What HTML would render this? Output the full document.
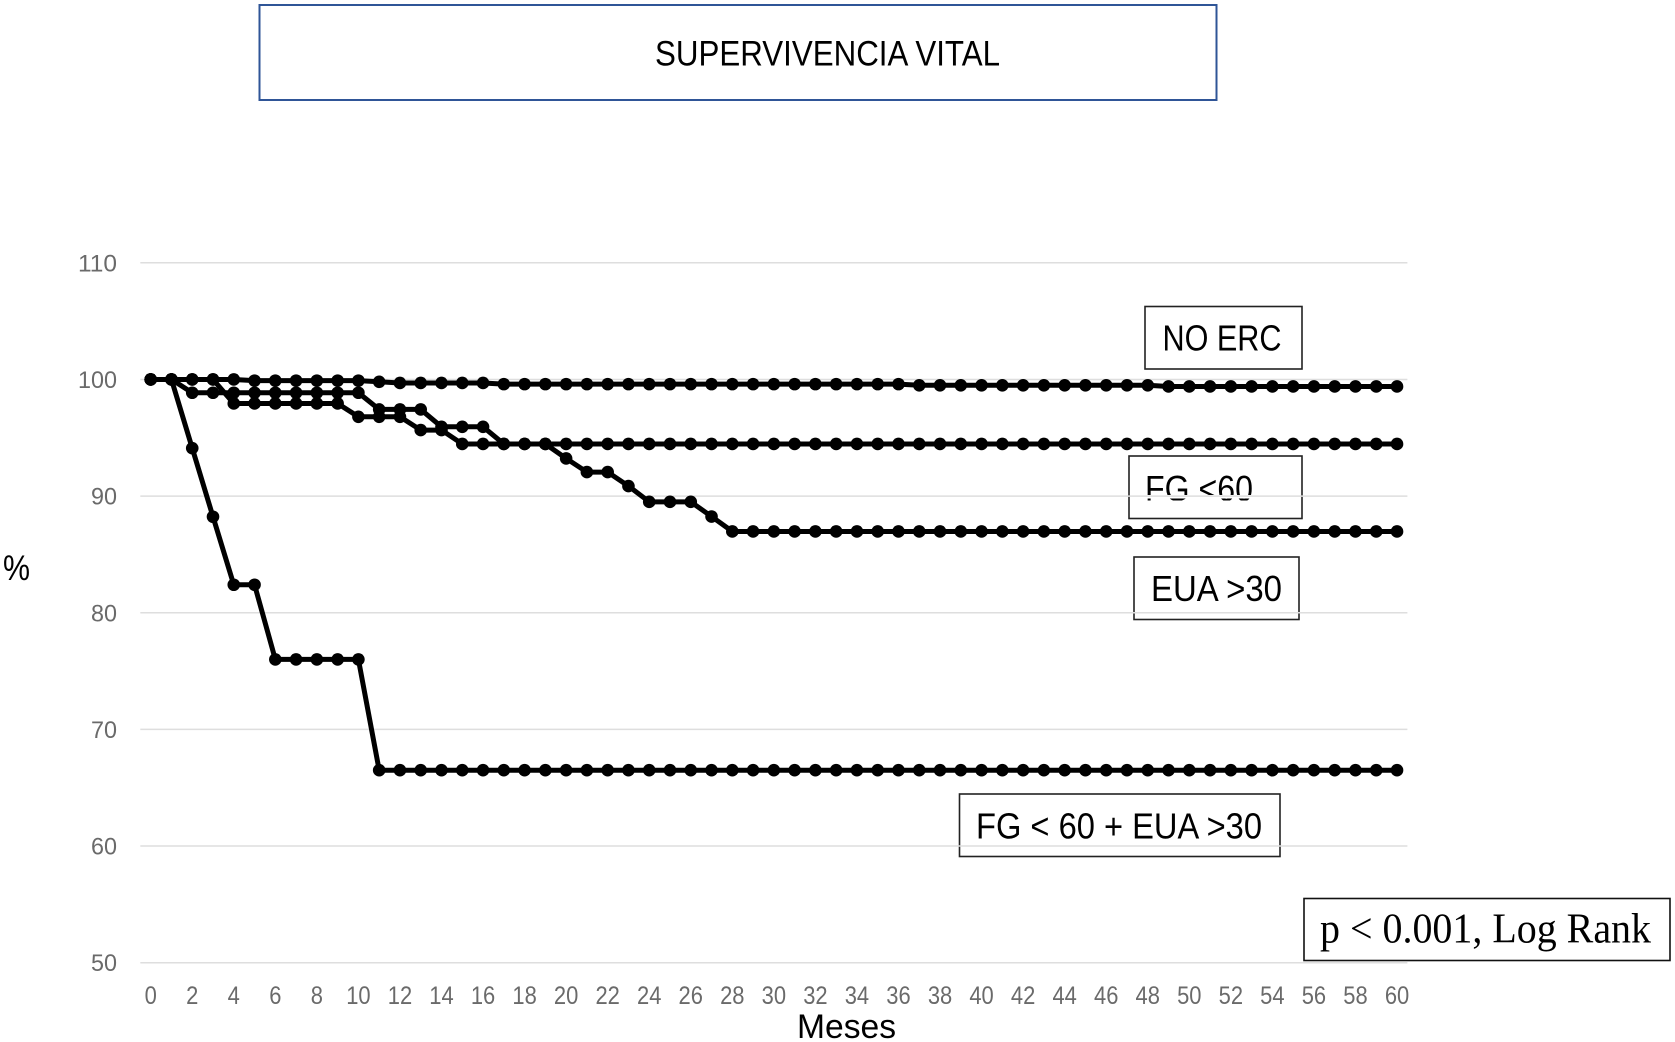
<!DOCTYPE html>
<html lang="es">
<head>
<meta charset="utf-8">
<title>Supervivencia vital</title>
<style>
html,body{margin:0;padding:0;background:#fff;}
svg{display:block;}
text{font-family:"Liberation Sans",sans-serif;}
</style>
</head>
<body>
<svg id="chart" xmlns="http://www.w3.org/2000/svg" width="1675" height="1042" viewBox="0 0 1675 1042">
  <defs>
    <clipPath id="fg-clip"><rect x="1131" y="460" width="169" height="40.5"></rect></clipPath>
  </defs>
  <rect x="0" y="0" width="1675" height="1042" fill="#ffffff"></rect>

  <g>
    <rect x="259.5" y="5" width="957" height="95" fill="#fff" stroke="#2f5597" stroke-width="2"></rect>
    <text x="655" y="65.5" font-size="35" textLength="345" lengthAdjust="spacingAndGlyphs" fill="#000">SUPERVIVENCIA VITAL</text>
  </g>

  <g>
    <rect x="1145" y="306.5" width="157" height="62.5" fill="#fff" stroke="#222" stroke-width="1.6"></rect>
    <text x="1162.5" y="350.5" font-size="36" textLength="119" lengthAdjust="spacingAndGlyphs" fill="#000">NO ERC</text>
  </g>
  <g>
    <rect x="1129" y="456" width="173" height="62.5" fill="#fff" stroke="#222" stroke-width="1.6"></rect>
    <text x="1145" y="501" font-size="36" textLength="108" lengthAdjust="spacingAndGlyphs" fill="#000" clip-path="url(#fg-clip)">FG &lt;60</text>
    <rect x="1130" y="495" width="171" height="3.5" fill="#fff"></rect>
  </g>
  <g>
    <rect x="1134" y="557" width="165" height="62.5" fill="#fff" stroke="#222" stroke-width="1.6"></rect>
    <text x="1151" y="601" font-size="36" textLength="131" lengthAdjust="spacingAndGlyphs" fill="#000">EUA &gt;30</text>
  </g>
  <g>
    <rect x="959.5" y="794" width="320.5" height="62.5" fill="#fff" stroke="#222" stroke-width="1.6"></rect>
    <text x="976" y="838.5" font-size="36" textLength="286" lengthAdjust="spacingAndGlyphs" fill="#000">FG &lt; 60 + EUA &gt;30</text>
  </g>

  <g id="grid"></g>
  <g id="y-ticks"></g>
  <g id="x-ticks"></g>
  <g id="series"></g>

  <g>
    <rect x="1304" y="898.5" width="366" height="62" fill="#fff" stroke="#111" stroke-width="1.6"></rect>
    <text x="1320" y="942.5" font-size="42" textLength="331" lengthAdjust="spacingAndGlyphs" fill="#000" style="font-family:'Liberation Serif',serif">p &lt; 0.001, Log Rank</text>
  </g>

  <text x="3" y="580" font-size="35" textLength="27" lengthAdjust="spacingAndGlyphs" fill="#000">%</text>
  <text x="797" y="1038" font-size="34" textLength="99" lengthAdjust="spacingAndGlyphs" fill="#000">Meses</text>
</svg>

<script>
var months = [0,1,2,3,4,5,6,7,8,9,10,11,12,13,14,15,16,17,18,19,20,21,22,23,24,25,26,27,28,29,30,31,32,33,34,35,36,37,38,39,40,41,42,43,44,45,46,47,48,49,50,51,52,53,54,55,56,57,58,59,60];
var xTickLabels = [0,2,4,6,8,10,12,14,16,18,20,22,24,26,28,30,32,34,36,38,40,42,44,46,48,50,52,54,56,58,60];
var yTickLabels = [50,60,70,80,90,100,110];

var noErcValues = [100,100,100,100,100,99.9,99.9,99.9,99.9,99.9,99.9,99.8,99.7,99.7,99.7,99.7,99.7,99.6,99.6,99.6,99.6,99.6,99.6,99.6,99.6,99.6,99.6,99.6,99.6,99.6,99.6,99.6,99.6,99.6,99.6,99.6,99.6,99.5,99.5,99.5,99.5,99.5,99.5,99.5,99.5,99.5,99.5,99.5,99.5,99.4,99.4,99.4,99.4,99.4,99.4,99.4,99.4,99.4,99.4,99.4,99.4];
var fgValues = [100,100,100,100,97.94,97.94,97.94,97.94,97.94,97.94,96.8,96.8,96.8,95.66,95.66,94.47,94.47,94.47,94.47,94.47,94.47,94.47,94.47,94.47,94.47,94.47,94.47,94.47,94.47,94.47,94.47,94.47,94.47,94.47,94.47,94.47,94.47,94.47,94.47,94.47,94.47,94.47,94.47,94.47,94.47,94.47,94.47,94.47,94.47,94.47,94.47,94.47,94.47,94.47,94.47,94.47,94.47,94.47,94.47,94.47,94.47];
var euaValues = [100,100,98.86,98.86,98.86,98.86,98.86,98.86,98.86,98.86,98.86,97.43,97.43,97.43,95.94,95.94,95.94,94.47,94.47,94.47,93.23,92.06,92.06,90.86,89.51,89.51,89.51,88.25,86.97,86.97,86.97,86.97,86.97,86.97,86.97,86.97,86.97,86.97,86.97,86.97,86.97,86.97,86.97,86.97,86.97,86.97,86.97,86.97,86.97,86.97,86.97,86.97,86.97,86.97,86.97,86.97,86.97,86.97,86.97,86.97,86.97];
var combinedValues = [100,100,94.11,88.23,82.4,82.4,76,76,76,76,76,66.5,66.5,66.5,66.5,66.5,66.5,66.5,66.5,66.5,66.5,66.5,66.5,66.5,66.5,66.5,66.5,66.5,66.5,66.5,66.5,66.5,66.5,66.5,66.5,66.5,66.5,66.5,66.5,66.5,66.5,66.5,66.5,66.5,66.5,66.5,66.5,66.5,66.5,66.5,66.5,66.5,66.5,66.5,66.5,66.5,66.5,66.5,66.5,66.5,66.5];

var NS = 'http://www.w3.org/2000/svg';
var plotLeft = 140.3, plotRight = 1407.4, yAt50 = 962.7, pxPerUnit = 11.665;
var bandWidth = (plotRight - plotLeft) / months.length;

function xScale(month) { return plotLeft + (month + 0.5) * bandWidth; }
function yScale(value) { return yAt50 - (value - 50) * pxPerUnit; }

function make(tag, attrs) {
  var el = document.createElementNS(NS, tag);
  for (var k in attrs) { el.setAttribute(k, attrs[k]); }
  return el;
}

var gridGroup = document.getElementById('grid');
var yGroup = document.getElementById('y-ticks');
yTickLabels.forEach(function (tick) {
  var line = make('line', {x1: plotLeft, x2: plotRight, y1: yScale(tick), y2: yScale(tick), stroke: '#dedede', 'stroke-width': 1.5});
  
  
  gridGroup.appendChild(line);

  var label = make('text', {x: 117, y: yScale(tick) + 8.5, 'text-anchor': 'end', 'font-size': 24, textLength: String(tick).length * 13, lengthAdjust: 'spacingAndGlyphs', fill: '#6a6a6a'});
  
  
  label.textContent = tick;
  yGroup.appendChild(label);
});

var xGroup = document.getElementById('x-ticks');
xTickLabels.forEach(function (tick) {
  var label = make('text', {x: xScale(tick), y: 1004, 'text-anchor': 'middle', 'font-size': 25, textLength: String(tick).length * 12.2, lengthAdjust: 'spacingAndGlyphs', fill: '#6a6a6a'});
  
  
  label.textContent = tick;
  xGroup.appendChild(label);
});

var seriesGroup = document.getElementById('series');
function drawSeries(seriesName, values) {
  var group = make('g', {});
  
  

  var points = values.map(function (v, i) { return xScale(months[i]).toFixed(2) + ',' + yScale(v).toFixed(2); }).join(' ');
  var line = make('polyline', {points: points, fill: 'none', stroke: '#000', 'stroke-width': 5, 'stroke-linejoin': 'round'});
  
  
  group.appendChild(line);

  values.forEach(function (v, i) {
    var dot = make('circle', {cx: xScale(months[i]), cy: yScale(v), r: 6.3, fill: '#000'});
    
    
    group.appendChild(dot);
  });
  seriesGroup.appendChild(group);
}
drawSeries('no-erc', noErcValues);
drawSeries('fg-lt-60', fgValues);
drawSeries('eua-gt-30', euaValues);
drawSeries('fg-eua-combined', combinedValues);
</script>
</body>
</html>
